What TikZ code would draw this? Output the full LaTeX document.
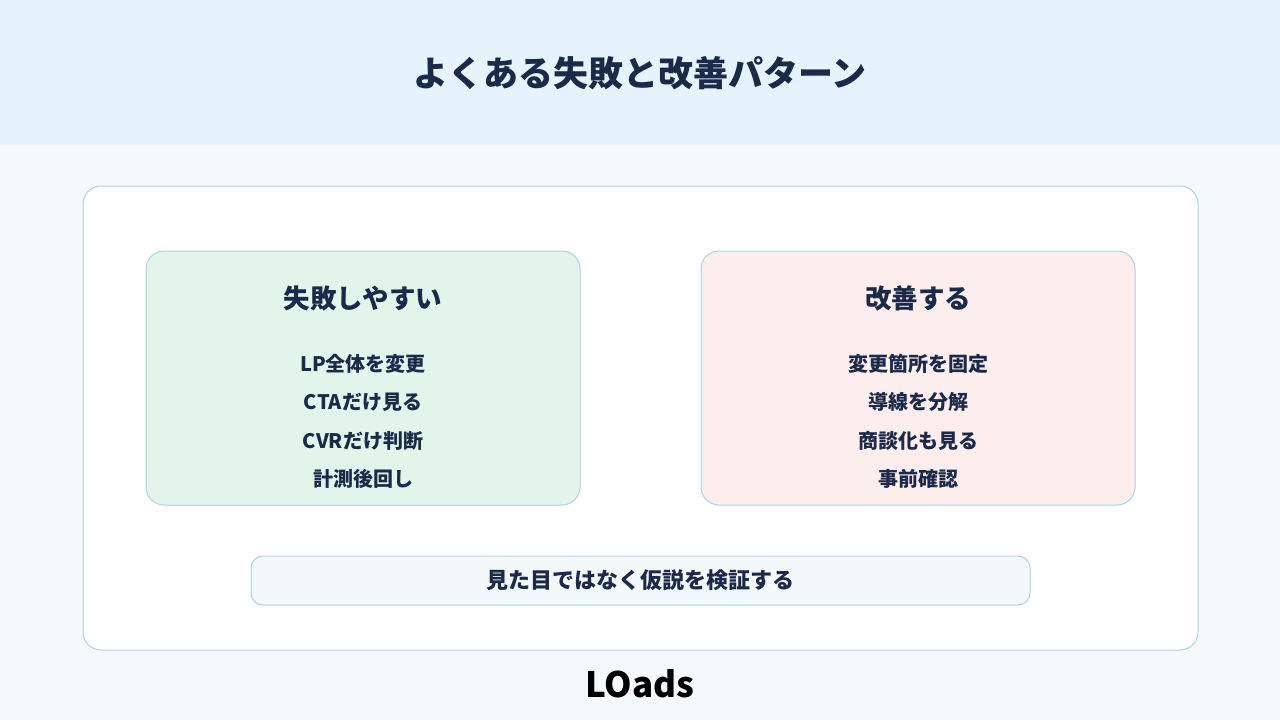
\documentclass[tikz,border=0pt]{standalone}
\usepackage{fontspec}
\setmainfont{Noto Sans CJK JP}
\begin{document}
\begin{tikzpicture}[x=1pt,y=-1pt,
  ink/.style={text=navy,font=\bfseries},
  card/.style={draw=edge,line width=1pt,rounded corners=18pt}]
\definecolor{navy}{HTML}{1B2A4A}
\definecolor{edge}{HTML}{A9D2E8}
\definecolor{topbg}{HTML}{E6F3FC}
\definecolor{pagebg}{HTML}{F4F9FD}
\definecolor{greenbg}{HTML}{E3F5EA}
\definecolor{pinkbg}{HTML}{FDEEEE}
\definecolor{barbg}{HTML}{F3F8FB}
\useasboundingbox (0,0) rectangle (1280,720);
\fill[pagebg] (0,0) rectangle (1280,720);
\fill[topbg] (0,0) rectangle (1280,145);
\node[ink,font=\bfseries\fontsize{35}{40}\selectfont] (title) at (640,73) {よくある失敗と改善パターン};
\draw[card,fill=white] (83,186) rectangle (1198,650);
\draw[card,fill=greenbg] (146,251) rectangle (580,505);
\draw[card,fill=pinkbg] (701,251) rectangle (1135,505);
\node[ink,font=\bfseries\fontsize{26.5}{30}\selectfont] (lh) at (363,298) {失敗しやすい};
\node[ink,font=\bfseries\fontsize{26.5}{30}\selectfont] (rh) at (918,298) {改善する};
\foreach \t [count=\i] in {LP全体を変更,CTAだけ見る,CVRだけ判断,計測後回し}
  \node[ink,font=\bfseries\fontsize{20}{24}\selectfont] (l\i) at (363,{325+38.5*\i}) {\t};
\foreach \t [count=\i] in {変更箇所を固定,導線を分解,商談化も見る,事前確認}
  \node[ink,font=\bfseries\fontsize{20}{24}\selectfont] (r\i) at (918,{325+38.5*\i}) {\t};
\draw[draw=edge,line width=1pt,rounded corners=12pt,fill=barbg] (251,556) rectangle (1030,605);
\node[ink,font=\bfseries\fontsize{22}{26}\selectfont] (bar) at (640,580) {見た目ではなく仮説を検証する};
\node[font=\bfseries\fontsize{35}{40}\selectfont,text=black] (logo) at (640,684) {LOads};
\end{tikzpicture}
\end{document}
